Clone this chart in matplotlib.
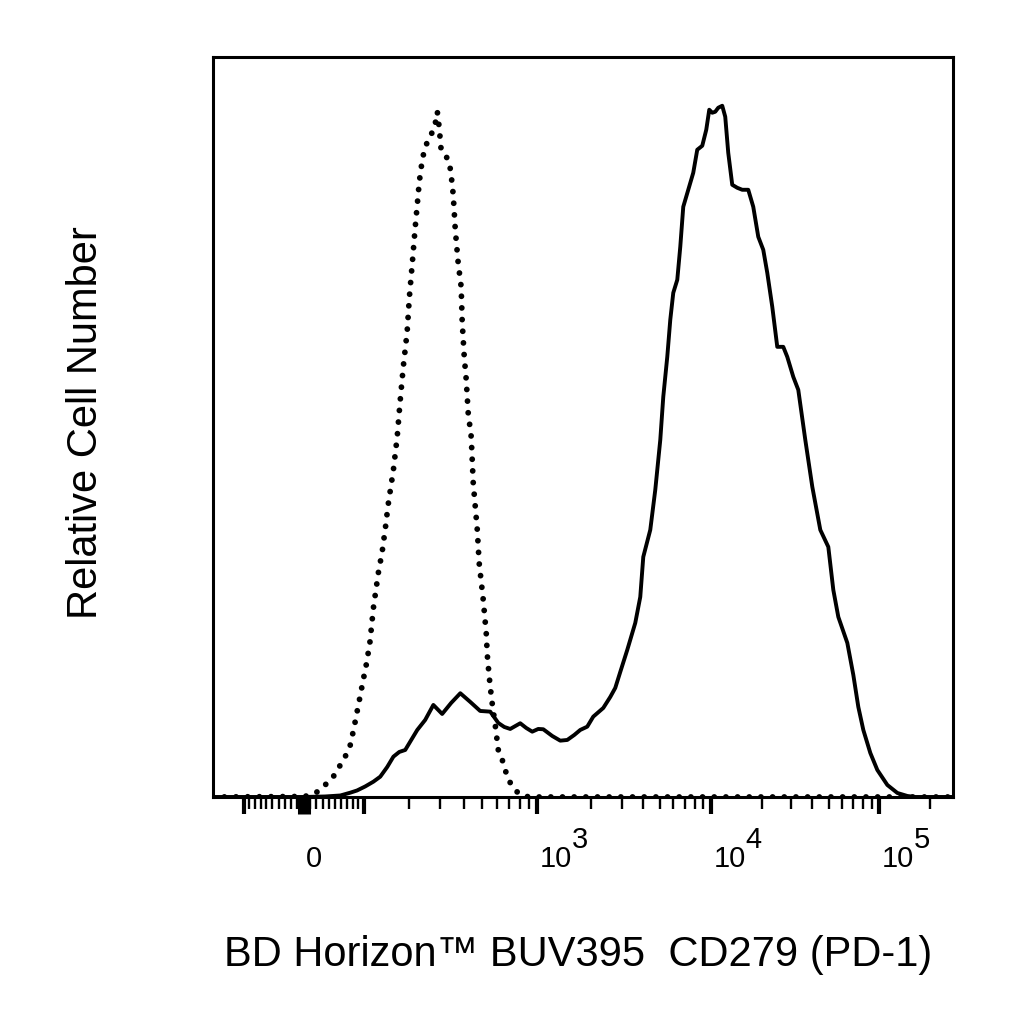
import numpy as np
import matplotlib
matplotlib.use("Agg")
import matplotlib.pyplot as plt
from matplotlib.ticker import FixedLocator, NullFormatter

plt.rcParams['font.family'] = ['Liberation Sans', 'DejaVu Sans']

# isotype control (dotted), fluorescence vs relative count
iso_x = [-165, 2, 21, 34, 47, 59, 67, 76, 82.5, 88, 93, 99, 105, 112, 119, 129, 137,
         144, 150, 162, 171, 178, 186, 196, 202, 210, 218, 224, 230, 239, 248, 264,
         275, 285, 289, 296, 303, 323, 335, 343, 352, 361, 374, 388, 393, 403, 413,
         423, 439, 450, 473, 484, 509, 528, 535, 548, 565, 590, 613, 644, 694, 776,
         837, 914, 277000]
iso_counts = [0, 0.5, 5, 12, 20, 32, 40, 52, 69, 85, 99, 116, 132, 154, 189, 224, 245,
              269, 292, 327, 360, 395, 430, 465, 500, 534, 569, 592, 615, 637, 650, 660,
              667, 677, 685, 669, 647, 640, 635, 622, 602, 567, 534, 510, 475, 440, 417,
              384, 360, 314, 267, 234, 197, 164, 142, 120, 97, 72, 47, 37, 17, 5,
              1, 0, 0]

# PD-1 stained cells (solid)
pd1_x = [-165, 0, 34, 59, 76, 88, 103, 119, 133, 148, 162, 176, 191, 207, 224, 248,
         275, 307, 343, 384, 434, 490, 555, 613, 660, 711, 806, 869, 938, 1012, 1079,
         1210, 1342, 1469, 1609, 1739, 1906, 2062, 2353, 2581, 2757, 2947, 3234, 3599,
         3848, 4006, 4400, 4706, 5034, 5241, 5531, 5760, 5998, 6331, 6593, 6865, 7346,
         7860, 8298, 8882, 9378, 9768, 10173, 10597, 11038, 11655, 12141, 12648, 13356,
         14298, 15309, 16619, 17794, 19053, 20400, 21549, 23075, 24707, 26824, 28335,
         30766, 32948, 36270, 39931, 44559, 49731, 53264, 57046, 64550, 70094, 75073,
         80413, 88516, 97459, 111840, 128338, 147208, 164327, 277000]
pd1_counts = [0, 0, 0.5, 1.5, 4.3, 6.5, 10.5, 15.3, 20.3, 30, 40.3, 45, 47, 57, 67, 77,
              92, 83, 94, 103.7, 95, 86, 85.3, 74, 70, 68, 73.7, 69, 65.3, 68, 67.7,
              61, 56.3, 57, 62, 67, 70.3, 80.3, 89, 100, 109, 125, 147, 174,
              200, 240, 267, 307, 357, 400, 440, 477, 504, 517, 550, 590, 607,
              624, 647, 651, 667, 687, 684, 685, 689, 691, 680, 644, 612,
              609, 607, 607, 590, 560, 547, 524, 490, 450, 450, 440,
              420, 407, 357, 310, 267, 250, 207, 180, 154, 122, 90,
              67, 44, 27, 12, 4, 1, 0, 0]

major_ticks = [-100, 0, 100, 1e3, 1e4, 1e5]
minor_ticks = ([-v for v in range(10, 100, 10)] + list(range(10, 100, 10))
               + list(range(200, 1000, 100)) + list(range(2000, 10000, 1000))
               + list(range(20000, 100000, 10000)) + [200000])
tick_text = [(0, "0", None), (1e3, "10", "3"), (1e4, "10", "4"), (1e5, "10", "5")]

# biexponential display scale
A_LOG = 36.5
P_LOG = 2.138


def to_value(u):
    u = np.asarray(u, dtype=float)
    a = np.abs(u)
    return np.sign(u) * A_LOG * (np.exp(a) - P_LOG**2 * np.exp(-a / P_LOG) + P_LOG**2 - 1)


u_grid = np.linspace(-14, 14, 40001)
v_grid = to_value(u_grid)


def to_display(v):
    return np.interp(np.asarray(v, dtype=float), v_grid, u_grid)


fig = plt.figure(figsize=(10.24, 10.24), dpi=100)
ax = fig.add_axes([0.2077, 0.2217, 0.7233, 0.7229])
ax.set_xscale('function', functions=(to_display, to_value))

ax.plot(iso_x, iso_counts, color='black', lw=4.2, linestyle=(0, (0.001, 2.0)),
        dash_capstyle='round')
ax.plot(pd1_x, pd1_counts, color='black', lw=2.8, solid_joinstyle='round')

ax.set_xlim(-165, 277000)
ax.set_ylim(0, 740)
ax.set_yticks([])

ax.xaxis.set_major_locator(FixedLocator(major_ticks))
ax.xaxis.set_minor_locator(FixedLocator(minor_ticks))
ax.xaxis.set_minor_formatter(NullFormatter())
ax.tick_params(axis='x', which='major', length=12.5, width=3.0, direction='out',
               labelbottom=False)
ax.tick_params(axis='x', which='minor', length=8.6, width=1.7, direction='out')
ax.xaxis.get_major_ticks()[1].tick1line.set_markeredgewidth(9.4)

for sp in ax.spines.values():
    sp.set_linewidth(2.2)

for val, base, expo in tick_text:
    ax.annotate(base, xy=(val, 0), xycoords=ax.get_xaxis_transform(),
                xytext=(1.8, -50.4), textcoords='offset points',
                ha='left', va='baseline', fontsize=21)
    if expo:
        ax.annotate(expo, xy=(val, 0), xycoords=ax.get_xaxis_transform(),
                    xytext=(24.8, -36.7), textcoords='offset points',
                    ha='left', va='baseline', fontsize=21)

fig.text(0.5645, 0.0566, "BD Horizon™ BUV395  CD279 (PD-1)", ha='center',
         va='baseline', fontsize=30)
fig.text(86 / 1024, 0.587, "Relative Cell Number", rotation=90, ha='center',
         va='center', fontsize=30)

fig.savefig("out.png", dpi=100)
